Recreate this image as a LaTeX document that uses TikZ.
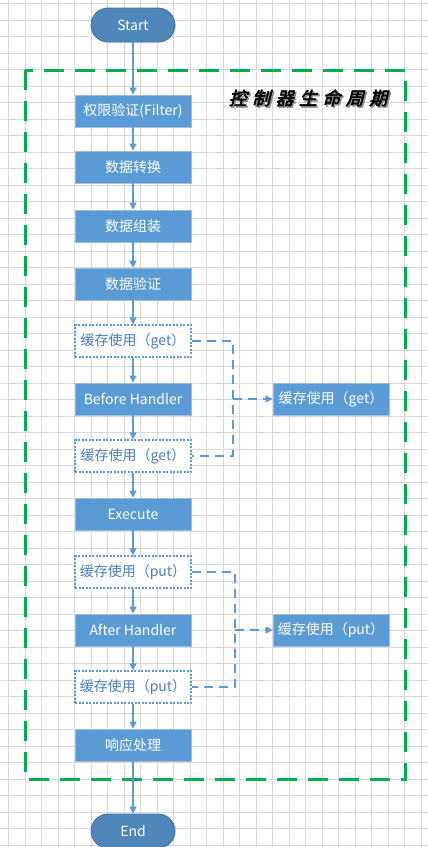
\documentclass[tikz,border=0pt]{standalone}
\usepackage{fontspec}
\setmainfont{Noto Sans CJK SC}
\newfontfamily\titlefont[FakeSlant=0.25,FakeBold=3,LetterSpace=30]{Noto Sans CJK SC}
\usetikzlibrary{arrows.meta,shadows}
\definecolor{boxblue}{HTML}{5B9BD5}
\definecolor{boxedge}{HTML}{9DBCE0}
\definecolor{termblue}{HTML}{4F87BA}
\definecolor{termedge}{HTML}{41719C}
\definecolor{gridgray}{HTML}{D9D9D9}
\definecolor{lifegreen}{HTML}{00B050}
\definecolor{dtext}{HTML}{4A7EC0}
\tikzset{
  term/.style={draw=termedge, fill=termblue, text=white, rounded corners=17pt,
    minimum width=84pt, minimum height=34pt, inner sep=0pt, line width=0.8pt,
    drop shadow={opacity=0.15, shadow xshift=1pt, shadow yshift=-1pt}},
  mainbox/.style={draw=boxedge, fill=boxblue, text=white, minimum width=116pt,
    minimum height=32pt, inner sep=0pt, line width=0.8pt,
    drop shadow={opacity=0.15, shadow xshift=1pt, shadow yshift=-1pt}},
  cachebox/.style={draw=boxblue, fill=white, text=dtext, minimum width=116pt,
    minimum height=32pt, inner sep=0pt, line width=1.3pt, dash pattern=on 2pt off 1.5pt},
  conn/.style={draw=boxblue, line width=1.1pt, -{Triangle[length=7pt,width=7pt]}},
  dconn/.style={draw=boxblue, line width=1.3pt, dash pattern=on 9pt off 6pt},
}
\begin{document}
\begin{tikzpicture}[x=1pt,y=-1pt,font=\fontsize{14}{16}\selectfont]
\useasboundingbox (0,0) rectangle (428,847);
\fill[white] (0,0) rectangle (428,847);
% grid
\foreach \i in {0,...,25} \draw[gridgray, line width=0.8pt] (8.7+\i*16.5,0) -- (8.7+\i*16.5,847);
\foreach \j in {0,...,51} \draw[gridgray, line width=0.8pt] (0,3.5+\j*16.5) -- (428,3.5+\j*16.5);
% lifecycle frame
\draw[lifegreen, line width=3pt, dash pattern=on 20pt off 11pt] (25,70) rectangle (405,779);
\node[text=black!45, font=\titlefont\fontsize{18}{20}\selectfont] (titleshadow) at (309.5,99.5) {控制器生命周期};
\node[text=black, font=\titlefont\fontsize{18}{20}\selectfont] (title) at (308,98) {控制器生命周期};
% nodes
\node[term] (start) at (133,25) {Start};
\node[mainbox] (b1) at (133,111) {权限验证(Filter)};
\node[mainbox] (b2) at (133,167) {数据转换};
\node[mainbox] (b3) at (133,226) {数据组装};
\node[mainbox] (b4) at (133,284) {数据验证};
\node[cachebox] (c1) at (133,341) {缓存使用（get）};
\node[mainbox] (b5) at (133,399) {Before Handler};
\node[cachebox] (c2) at (133,456) {缓存使用（get）};
\node[mainbox] (b6) at (133,514) {Execute};
\node[cachebox] (c3) at (133,572) {缓存使用（put）};
\node[mainbox] (b7) at (133,630) {After Handler};
\node[cachebox] (c4) at (133,687) {缓存使用（put）};
\node[mainbox] (b8) at (133,745) {响应处理};
\node[term] (end) at (133,831) {End};
\node[mainbox] (sg) at (331,399) {缓存使用（get）};
\node[mainbox] (sp) at (331,630) {缓存使用（put）};
% main flow
\draw[conn] (start) -- (b1);
\draw[conn] (b1) -- (b2);
\draw[conn] (b2) -- (b3);
\draw[conn] (b3) -- (b4);
\draw[conn] (b4) -- (c1);
\draw[conn] (c1) -- (b5);
\draw[conn] (b5) -- (c2);
\draw[conn] (c2) -- (b6);
\draw[conn] (b6) -- (c3);
\draw[conn] (c3) -- (b7);
\draw[conn] (b7) -- (c4);
\draw[conn] (c4) -- (b8);
\draw[conn] (b8) -- (end);
% cache side links
\coordinate (jg) at (233,399);
\coordinate (jp) at (235,630);
\draw[dconn] (c1.east) -- (c1.east -| jg) -- (c2.east -| jg) -- (c2.east);
\draw[dconn, -{Triangle[length=7pt,width=7pt]}] (jg) -- (sg.west);
\draw[dconn] (c3.east) -- (c3.east -| jp) -- (c4.east -| jp) -- (c4.east);
\draw[dconn, -{Triangle[length=7pt,width=7pt]}] (jp) -- (sp.west);
\end{tikzpicture}
\end{document}
